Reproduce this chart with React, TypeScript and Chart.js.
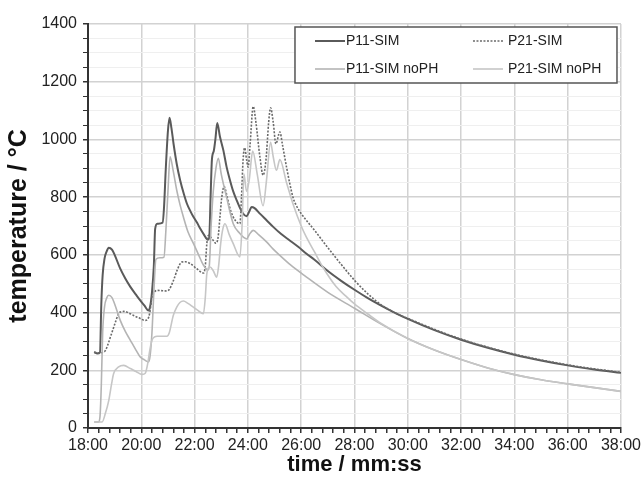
import React, { useEffect, useRef } from "react";
import { Chart, registerables } from "chart.js";

Chart.register(...registerables);

// time in minutes (18.5 = 18:30), temperature in °C
const p11Time = [18.23, 18.35, 18.45, 18.5, 18.55, 18.62, 18.7, 18.78, 18.9, 19.0, 19.21, 19.4, 19.59, 19.8, 19.96, 20.12, 20.27, 20.33, 20.4, 20.47, 20.52, 20.6, 20.8, 20.85, 20.92, 21.0, 21.06, 21.13, 21.21, 21.33, 21.46, 21.6, 21.71, 21.85, 21.96, 22.1, 22.21, 22.35, 22.5, 22.55, 22.6, 22.65, 22.72, 22.78, 22.85, 22.95, 23.08, 23.2, 23.33, 23.45, 23.58, 23.7, 23.82, 23.95, 24.05, 24.14, 24.25, 24.45, 24.7, 24.95, 25.25, 25.57, 25.9, 26.2, 26.5, 27.0, 27.5, 28.0, 28.5, 29.0, 29.5, 30.0, 31.0, 32.0, 33.0, 34.0, 35.0, 36.0, 37.0, 38.0];
const p11Temp = [263, 258, 262, 430, 530, 587, 612, 625, 618, 600, 552, 518, 489, 462, 442, 424, 407, 420, 470, 560, 690, 708, 712, 760, 900, 1030, 1075, 1040, 985, 915, 858, 810, 778, 750, 731, 710, 691, 670, 652, 660, 800, 930, 960, 1000, 1057, 1010, 962, 905, 858, 820, 789, 763, 743, 734, 750, 766, 762, 743, 720, 697, 672, 650, 627, 604, 583, 544, 510, 479, 450, 424, 400, 378, 339, 306, 278, 254, 234, 217, 203, 191];

const p21Time = [18.23, 18.4, 18.55, 18.65, 18.75, 18.84, 18.95, 19.03, 19.12, 19.21, 19.35, 19.5, 19.71, 19.9, 20.15, 20.25, 20.32, 20.4, 20.5, 20.59, 20.75, 20.95, 21.05, 21.21, 21.35, 21.52, 21.65, 21.83, 22.08, 22.33, 22.4, 22.46, 22.52, 22.6, 22.7, 22.8, 22.88, 22.95, 23.02, 23.11, 23.2, 23.3, 23.45, 23.6, 23.7, 23.76, 23.82, 23.88, 23.95, 24.01, 24.08, 24.2, 24.3, 24.45, 24.57, 24.68, 24.78, 24.85, 24.95, 25.05, 25.2, 25.3, 25.45, 25.69, 25.85, 26.0, 26.5, 27.0, 27.5, 28.0, 28.5, 29.0, 29.5, 30.0, 31.0, 32.0, 33.0, 34.0, 35.0, 36.0, 37.0, 38.0];
const p21Temp = [263, 260, 262, 268, 290, 315, 345, 367, 390, 402, 404, 400, 390, 382, 373, 378, 400, 454, 472, 477, 476, 475, 480, 512, 548, 575, 576, 570, 552, 537, 560, 640, 668, 662, 650, 640, 660, 730, 800, 837, 810, 770, 731, 712, 708, 800, 930, 971, 930, 904, 980, 1114, 1060, 940, 876, 930, 1060, 1110, 1060, 985, 1026, 980, 904, 800, 765, 743, 685, 625, 567, 512, 465, 427, 400, 380, 342, 308, 280, 256, 236, 219, 205, 193];

const p11nTime = [18.23, 18.4, 18.45, 18.5, 18.55, 18.62, 18.7, 18.78, 18.9, 19.0, 19.21, 19.4, 19.59, 19.8, 19.96, 20.12, 20.27, 20.33, 20.4, 20.47, 20.55, 20.7, 20.85, 20.92, 21.0, 21.08, 21.2, 21.33, 21.45, 21.58, 21.75, 21.96, 22.15, 22.33, 22.5, 22.55, 22.62, 22.7, 22.8, 22.89, 23.0, 23.2, 23.45, 23.7, 23.85, 23.95, 24.05, 24.2, 24.4, 24.7, 24.95, 25.2, 25.6, 26.2, 27.0, 28.0, 29.0, 30.0, 31.0, 32.0, 33.0, 34.0, 35.0, 36.0, 37.0, 38.0];
const p11nTemp = [21, 21, 40, 150, 330, 420, 450, 460, 452, 430, 373, 335, 304, 270, 246, 236, 229, 250, 330, 470, 585, 590, 592, 680, 820, 940, 890, 824, 775, 731, 680, 639, 600, 565, 548, 560, 700, 820, 900, 935, 880, 800, 708, 674, 660, 655, 670, 685, 670, 645, 620, 598, 565, 523, 470, 415, 360, 310, 270, 237, 208, 185, 167, 153, 140, 127];

const p21nTime = [18.23, 18.53, 18.65, 18.78, 18.88, 18.96, 19.15, 19.34, 19.59, 19.8, 20.03, 20.15, 20.25, 20.32, 20.4, 20.5, 20.59, 20.96, 21.05, 21.2, 21.33, 21.45, 21.58, 21.75, 21.95, 22.2, 22.33, 22.4, 22.46, 22.58, 22.7, 22.83, 22.9, 22.98, 23.06, 23.14, 23.3, 23.45, 23.7, 23.78, 23.85, 23.95, 24.05, 24.18, 24.35, 24.57, 24.7, 24.85, 24.95, 25.07, 25.2, 25.45, 25.69, 26.0, 26.19, 26.5, 26.81, 27.31, 27.7, 28.0, 28.5, 29.0, 30.0, 31.0, 32.0, 33.0, 34.0, 35.0, 36.0, 37.0, 38.0];
const p21nTemp = [21, 21, 50, 96, 150, 188, 212, 217, 206, 196, 186, 190, 228, 270, 304, 316, 318, 318, 330, 390, 419, 435, 440, 432, 419, 402, 396, 450, 535, 558, 545, 523, 560, 640, 690, 708, 670, 639, 593, 700, 880, 820, 860, 960, 880, 770, 860, 990, 940, 893, 930, 850, 777, 700, 662, 610, 558, 490, 455, 430, 395, 362, 310, 270, 237, 208, 185, 167, 153, 140, 127];

const seriesNames = ["P11-SIM", "P21-SIM", "P11-SIM noPH", "P21-SIM noPH"];
const seriesColors = ["#5a5a5a", "#6a6a6a", "#b4b4b4", "#c6c6c6"];
const seriesDash: number[][] = [[], [2, 1.5], [], []];
const seriesWidth = [2, 1.6, 1.6, 1.6];

const xMin = 18, xMax = 38, xMinorStep = 0.4, xMajorStep = 2;
const yMin = 0, yMax = 1400, yMinorStep = 50, yMajorStep = 200;

const FONT = "'Liberation Sans', Arial, sans-serif";

const isMul = (v: number, s: number) => Math.abs(v / s - Math.round(v / s)) < 1e-6;

const boxLegend = {
  id: "boxLegend",
  afterDraw(chart: any) {
    const { ctx, chartArea } = chart;
    const x0 = chartArea.right - 326;
    const y0 = chartArea.top + 3;
    const w = 322, h = 56;
    ctx.save();
    ctx.fillStyle = "#ffffff";
    ctx.fillRect(x0, y0, w, h);
    ctx.strokeStyle = "#555";
    ctx.lineWidth = 1.5;
    ctx.strokeRect(x0, y0, w, h);
    const colLine = [x0 + 20, x0 + 178];
    const colText = [x0 + 51, x0 + 213];
    const rowY = [y0 + 14, y0 + 42];
    ctx.font = `14px ${FONT}`;
    ctx.textBaseline = "middle";
    ctx.textAlign = "left";
    chart.data.datasets.forEach((ds: any, i: number) => {
      const c = i % 2, r = Math.floor(i / 2);
      ctx.beginPath();
      ctx.setLineDash(ds.borderDash || []);
      ctx.strokeStyle = ds.borderColor;
      ctx.lineWidth = ds.borderWidth;
      ctx.moveTo(colLine[c], rowY[r]);
      ctx.lineTo(colLine[c] + 30, rowY[r]);
      ctx.stroke();
      ctx.setLineDash([]);
      ctx.fillStyle = "#222";
      ctx.fillText(ds.label, colText[c], rowY[r]);
    });
    ctx.restore();
  },
};

export default function App() {
  const ref = useRef<HTMLCanvasElement | null>(null);
  useEffect(() => {
    if (!ref.current) return;
    const pairs = [
      [p11Time, p11Temp],
      [p21Time, p21Temp],
      [p11nTime, p11nTemp],
      [p21nTime, p21nTemp],
    ];
    const datasets = pairs.map(([tx, ty], i) => ({
      label: seriesNames[i],
      data: tx.map((t, k) => ({ x: t, y: ty[k] })),
      borderColor: seriesColors[i],
      backgroundColor: seriesColors[i],
      borderDash: seriesDash[i],
      borderWidth: seriesWidth[i],
      pointRadius: 0,
      cubicInterpolationMode: "monotone" as const,
      fill: false,
      order: 4 - i,
    }));
    const chart = new Chart(ref.current, {
      type: "line",
      data: { datasets },
      plugins: [boxLegend],
      options: {
        animation: false,
        responsive: false,
        maintainAspectRatio: false,
        layout: { padding: { left: 0, right: 21, top: 24, bottom: 0 } },
        plugins: { legend: { display: false }, tooltip: { enabled: false } },
        scales: {
          x: {
            type: "linear",
            min: xMin,
            max: xMax,
            afterFit: (s: any) => { s.height = 50; },
            ticks: {
              stepSize: xMinorStep,
              autoSkip: false,
              maxRotation: 0,
              padding: 3,
              color: "#222",
              font: { size: 16, family: FONT },
              callback: (v: any) => (isMul(Number(v), xMajorStep) ? `${Math.round(Number(v))}:00` : ""),
            },
            grid: {
              color: (c: any) => (c.tick && isMul(c.tick.value, xMajorStep) ? "#d2d2d2" : "rgba(0,0,0,0)"),
              lineWidth: 1.5,
              tickColor: "#333",
              tickLength: 5,
            },
            border: { color: "#333", width: 2 },
            title: {
              display: true,
              text: "time / mm:ss",
              color: "#111",
              font: { size: 22, weight: "bold", family: FONT },
              padding: { top: 0, bottom: 0 },
            },
          },
          y: {
            type: "linear",
            min: yMin,
            max: yMax,
            afterFit: (s: any) => { s.width = 88; },
            ticks: {
              stepSize: yMinorStep,
              autoSkip: false,
              padding: 6,
              color: "#222",
              font: { size: 16, family: FONT },
              callback: (v: any) => (isMul(Number(v), yMajorStep) ? String(v) : ""),
            },
            grid: {
              color: (c: any) => (c.tick && isMul(c.tick.value, yMajorStep) ? "#d2d2d2" : "#efefef"),
              lineWidth: (c: any) => (c.tick && isMul(c.tick.value, yMajorStep) ? 1.5 : 1),
              tickColor: "#333",
              tickLength: 5,
            },
            border: { color: "#333", width: 2 },
            title: {
              display: true,
              text: "temperature / °C",
              color: "#111",
              font: { size: 25, weight: "bold", family: FONT },
              padding: { top: 4, bottom: 0 },
            },
          },
        },
      },
    });
    return () => chart.destroy();
  }, []);
  return (
    <div style={{ position: "fixed", left: 0, top: 0, width: 644, height: 478, background: "#fff" }}>
      <canvas ref={ref} width={644} height={478} style={{ width: 644, height: 478, display: "block" }} />
    </div>
  );
}
